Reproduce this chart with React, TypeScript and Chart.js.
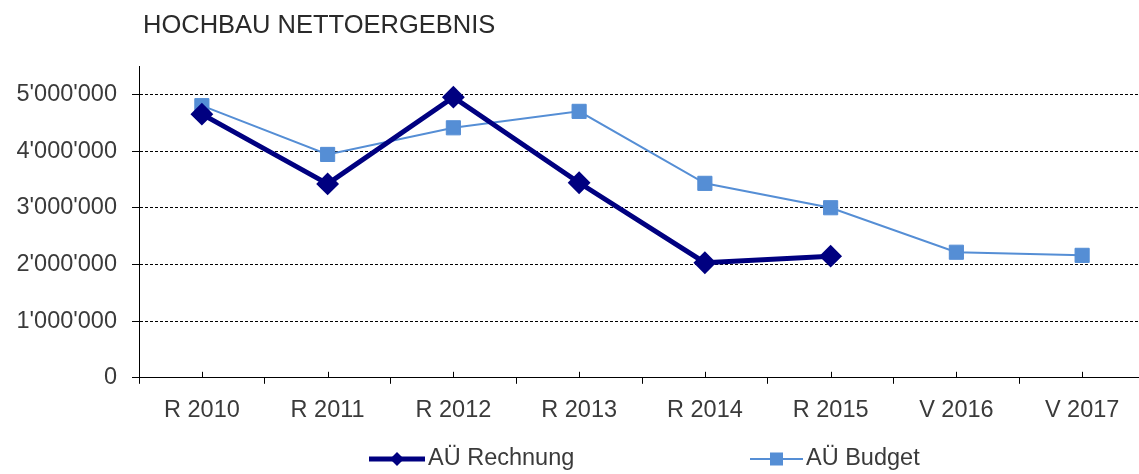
import { useEffect, useRef } from 'react';
import Chart from 'chart.js/auto';

const chartTitle = 'HOCHBAU NETTOERGEBNIS';
const categories = ['R 2010', 'R 2011', 'R 2012', 'R 2013', 'R 2014', 'R 2015', 'V 2016', 'V 2017'];
const seriesNames = ['AÜ Rechnung', 'AÜ Budget'];
const rechnungValues = [4650000, 3420000, 4950000, 3440000, 2030000, 2145000, null, null];
const budgetValues = [4800000, 3940000, 4410000, 4700000, 3430000, 3000000, 2215000, 2160000];
const yTickValues = [0, 1000000, 2000000, 3000000, 4000000, 5000000];
const yMin = 0;
const yMax = 5500000;

const NAVY = '#000080';
const LIGHT = '#558ED5';
const FONT = '"Liberation Sans", Arial, sans-serif';
const TEXT = '#3a3a3a';

function fmt(v: number): string {
  return String(Math.round(v)).replace(/\B(?=(\d{3})+(?!\d))/g, "'");
}

const decorPlugin = {
  id: 'decor',
  afterDraw(chart: any) {
    const { ctx, chartArea, scales } = chart;
    const x = scales.x;
    ctx.save();
    // upward ticks at category centres
    ctx.strokeStyle = '#000';
    ctx.lineWidth = 1;
    for (let i = 0; i < categories.length; i++) {
      const px = Math.round(x.getPixelForValue(i)) + 0.5;
      ctx.beginPath();
      ctx.moveTo(px, chartArea.bottom);
      ctx.lineTo(px, chartArea.bottom - 6);
      ctx.stroke();
    }
    // title
    ctx.font = `25.5px ${FONT}`;
    ctx.fillStyle = '#2a2a2a';
    ctx.textAlign = 'left';
    ctx.textBaseline = 'middle';
    ctx.fillText(chartTitle, chartArea.left + 4, 26);

    // legend
    const c = (chartArea.left + chartArea.right) / 2;
    const ly = 459;
    const starts = [c - 273, c + 108];
    const lineLen = 56;
    ctx.font = `23.5px ${FONT}`;
    // Rechnung
    let s = starts[0];
    ctx.strokeStyle = NAVY;
    ctx.lineWidth = 5;
    ctx.beginPath();
    ctx.moveTo(s, ly);
    ctx.lineTo(s + lineLen, ly);
    ctx.stroke();
    let m = s + lineLen / 2;
    ctx.fillStyle = NAVY;
    ctx.beginPath();
    ctx.moveTo(m, ly - 7);
    ctx.lineTo(m + 7, ly);
    ctx.lineTo(m, ly + 7);
    ctx.lineTo(m - 7, ly);
    ctx.closePath();
    ctx.fill();
    ctx.fillStyle = TEXT;
    ctx.fillText(seriesNames[0], s + lineLen + 3, ly);
    // Budget
    s = starts[1];
    ctx.strokeStyle = LIGHT;
    ctx.lineWidth = 2;
    ctx.beginPath();
    ctx.moveTo(s, ly);
    ctx.lineTo(s + lineLen - 3, ly);
    ctx.stroke();
    m = s + (lineLen - 3) / 2;
    ctx.fillStyle = LIGHT;
    ctx.fillRect(m - 6.5, ly - 6.5, 13, 13);
    ctx.fillStyle = TEXT;
    ctx.fillText(seriesNames[1], s + lineLen, ly);
    ctx.restore();
  },
};

export default function App() {
  const ref = useRef<HTMLCanvasElement | null>(null);
  useEffect(() => {
    if (!ref.current) return;
    const chart = new Chart(ref.current, {
      type: 'line',
      data: {
        labels: categories,
        datasets: [
          {
            label: seriesNames[1],
            data: budgetValues,
            borderColor: LIGHT,
            backgroundColor: LIGHT,
            borderWidth: 2,
            pointStyle: 'rect',
            pointRadius: 10,
            pointBorderWidth: 1,
            pointBackgroundColor: LIGHT,
            pointBorderColor: LIGHT,
            tension: 0,
            order: 2,
          },
          {
            label: seriesNames[0],
            data: rechnungValues,
            borderColor: NAVY,
            backgroundColor: NAVY,
            borderWidth: 5,
            pointStyle: 'rectRot',
            pointRadius: 10,
            pointBorderWidth: 2,
            pointBackgroundColor: NAVY,
            pointBorderColor: NAVY,
            tension: 0,
            order: 1,
          },
        ],
      },
      options: {
        animation: false,
        responsive: false,
        maintainAspectRatio: false,
        devicePixelRatio: 1,
        layout: { autoPadding: false, padding: { top: 66, bottom: 36, left: 0, right: 0 } },
        plugins: {
          legend: { display: false },
          title: { display: false },
          tooltip: { enabled: false },
        },
        scales: {
          x: {
            type: 'category',
            offset: true,
            afterFit: (scale: any) => {
              scale.paddingRight = 0;
              scale.paddingLeft = 0;
            },
            grid: {
              offset: true,
              drawOnChartArea: false,
              drawTicks: true,
              tickLength: 6,
              color: '#000',
              lineWidth: 1,
            },
            border: { display: true, color: '#000', width: 1 },
            ticks: {
              padding: 13,
              color: TEXT,
              font: { family: FONT, size: 23.5 },
              maxRotation: 0,
              autoSkip: false,
            },
          },
          y: {
            min: yMin,
            max: yMax,
            afterFit: (scale: any) => {
              scale.width = 139;
            },
            afterBuildTicks: (scale: any) => {
              scale.ticks = yTickValues.map((v) => ({ value: v }));
            },
            grid: {
              color: '#000',
              lineWidth: 1,
              tickLength: 7,
              drawTicks: true,
            },
            border: { display: true, color: '#000', width: 1, dash: [3, 2] },
            ticks: {
              padding: 15,
              color: TEXT,
              font: { family: FONT, size: 23.5 },
              callback: (v: any) => fmt(Number(v)),
            },
          },
        },
      },
      plugins: [decorPlugin],
    });
    return () => chart.destroy();
  }, []);
  return (
    <div style={{ position: 'absolute', left: 0, top: 0, width: 1139, height: 474, overflow: 'hidden', background: '#fff' }}>
      <canvas ref={ref} width={1145} height={474} style={{ width: 1145, height: 474, display: 'block' }} />
    </div>
  );
}
